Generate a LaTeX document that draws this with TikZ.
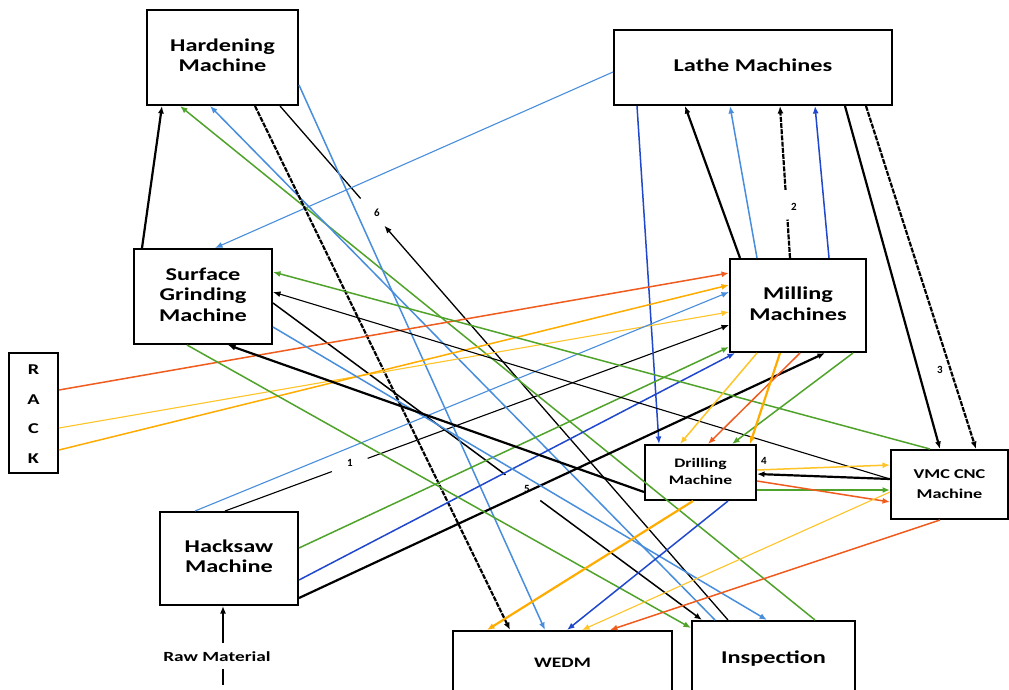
\documentclass[tikz,border=0pt]{standalone}
\usepackage{fontspec}
\usepackage{graphicx}
\setmainfont{Carlito}
\usetikzlibrary{arrows.meta,calc}

\definecolor{corange}{RGB}{240,92,30}
\definecolor{camber}{RGB}{255,172,0}
\definecolor{cyellow}{RGB}{255,196,40}
\definecolor{cgreen}{RGB}{80,163,42}
\definecolor{clight}{RGB}{72,142,220}
\definecolor{cblue}{RGB}{32,72,204}

% box caption: raise, font size, line skip, lines
\newcommand{\boxtext}[4]{\raisebox{#1pt}{\scalebox{1.35}[1]{\fontsize{#2}{#3}\selectfont\bfseries\begin{tabular}{@{}c@{}}#4\end{tabular}}}}

\tikzset{
  machine/.style={draw, line width=2pt, inner sep=0pt},
  num/.style={font=\fontsize{11}{12}\selectfont\bfseries, inner sep=1pt},
  ln/.style={line width=1.5pt, -{Latex[length=7.5pt,width=6pt]}},
  lnback/.style={line width=1.3pt, {Latex[length=7.5pt,width=6pt]}-},
  slim/.style={line width=1.1pt},
  heavy/.style={line width=2.2pt},
  dashline/.style={dash pattern=on 5pt off 1.2pt},
}

\begin{document}
\begin{tikzpicture}[x=1pt, y=-1pt]
\useasboundingbox (0,0) rectangle (1009,690);
\fill[white] (0,0) rectangle (1009,690);
\clip (0,0) rectangle (1009,690);

% machines
\node[machine, minimum width=151pt, minimum height=95pt] (hard) at (222.5,57.5) {\boxtext{3.5}{18}{20.5}{Hardening\\Machine}};
\node[machine, minimum width=278pt, minimum height=75pt] (lathe) at (753,67.5) {\boxtext{-3.5}{18}{20.5}{Lathe Machines}};
\node[machine, minimum width=138pt, minimum height=95pt] (sg) at (203,296.5) {\boxtext{5}{18}{20.5}{Surface\\Grinding\\Machine}};
\node[machine, minimum width=136pt, minimum height=93pt] (mill) at (798,305.5) {\boxtext{5}{18}{21}{Milling\\Machines}};
\node[machine, minimum width=49pt, minimum height=120pt] (rack) at (33.5,413) {\boxtext{0}{15}{29.5}{R\\A\\C\\K}};
\node[machine, minimum width=111pt, minimum height=55pt] (drill) at (700.5,472.5) {\boxtext{2.5}{13}{17}{Drilling\\Machine}};
\node[machine, minimum width=117pt, minimum height=69pt] (vmc) at (949.5,484.5) {\boxtext{7}{13.5}{20}{VMC CNC\\Machine}};
\node[machine, minimum width=138pt, minimum height=93pt] (hack) at (229,558.5) {\boxtext{4.5}{18}{20.5}{Hacksaw\\Machine}};
\node[machine, minimum width=219pt, minimum height=69pt] (wedm) at (562.5,665.5) {\boxtext{7.5}{14.5}{17}{WEDM}};
\node[machine, minimum width=163pt, minimum height=79pt] (insp) at (773.5,660.5) {\boxtext{8.5}{18}{20.5}{Inspection}};

\node[inner sep=1pt] (raw) at (217,657) {\scalebox{1.38}[1]{\fontsize{14}{16}\selectfont\bfseries Raw Material}};
\coordinate (rawtop) at (223,643);
\coordinate (rawtail) at (223,685);
\draw[line width=1.5pt] (223,669) -- (rawtail);

% numbered links (drawn with a gap around their number)
\coordinate (a1s) at (hard.south -| 280,0);
\coordinate (a1e) at (insp.north -| 728,0);
\draw[lnback] (a1s) -- ($(a1s)!0.180!(a1e)$) ($(a1s)!0.233!(a1e)$) -- (a1e);
\coordinate (a2s) at (mill.north -| 790,0);
\coordinate (a2e) at (lathe.south -| 780,0);
\draw[ln, heavy, dashline] (a2s) -- ($(a2s)!0.253!(a2e)$) ($(a2s)!0.448!(a2e)$) -- (a2e);
\coordinate (a3s) at (hack.north -| 225,0);
\coordinate (a3e) at (mill.west |- 0,325);
\draw[ln, slim] (a3s) -- ($(a3s)!0.212!(a3e)$) ($(a3s)!0.283!(a3e)$) -- (a3e);
\coordinate (a4s) at (sg.east |- 0,303);
\coordinate (a4e) at (insp.north -| 702,0);
\draw[ln] (a4s) -- ($(a4s)!0.542!(a4e)$) ($(a4s)!0.623!(a4e)$) -- (a4e);

\node[num] (n6) at (377,213) {6};
\node[num] (n2) at (794,207) {2};
\node[num] (n3) at (940,370) {3};
\node[num] (n1) at (350,463) {1};
\node[num] (n4) at (764,461) {4};
\node[num] (n5) at (527,489) {5};

% lathe links
\draw[ln, cblue] (lathe.south -| 637,0) -- (drill.north -| 659,0);
\draw[ln, heavy] (mill.north -| 740,0) -- (lathe.south -| 685,0);
\draw[ln, clight] (mill.north -| 757,0) -- (lathe.south -| 730,0);
\draw[ln, cblue] (mill.north -| 829,0) -- (lathe.south -| 815,0);
\draw[ln, heavy] (lathe.south -| 845,0) -- (vmc.north -| 940,0);
\draw[ln, heavy, dashline] (lathe.south -| 866,0) -- (vmc.north -| 976,0);
\draw[ln, clight, slim] (lathe.west |- 0,72) -- (sg.north -| 215,0);

% hardening links
\draw[ln, heavy] (sg.north -| 142,0) -- (hard.south -| 162,0);
\draw[ln, cgreen] (insp.north -| 815,0) -- (hard.south -| 180,0);
\draw[ln, clight] (insp.north -| 715,0) -- (hard.south -| 210,0);
\draw[ln, heavy, dashline] (hard.south -| 255,0) -- (wedm.north -| 510,0);
\draw[ln, clight] (hard.east |- 0,85) -- (wedm.north -| 545,0);

% rack links
\draw[ln, corange] (rack.east |- 0,390) -- (mill.west |- 0,273);
\draw[ln, cyellow, slim] (rack.east |- 0,428) -- (mill.west |- 0,312);
\draw[ln, camber] (rack.east |- 0,450) -- (mill.west |- 0,285);

% hacksaw links
\draw[ln, clight, slim] (hack.north -| 195,0) -- (mill.west |- 0,292);
\draw[ln, cgreen] (hack.east |- 0,548) -- (mill.west |- 0,347);
\draw[ln, cblue] (hack.east |- 0,580) -- (mill.south -| 735,0);
\draw[ln, heavy] (hack.east |- 0,598) -- (mill.south -| 825,0);
\draw[ln, heavy] (rawtop) -- (hack.south -| 223,0);

% surface grinding links
\draw[ln, cgreen] (vmc.north -| 930,0) -- (sg.east |- 0,272);
\draw[ln, slim] (vmc.west |- 0,479) -- (sg.east |- 0,292);
\draw[ln, clight] (sg.east |- 0,327) -- (insp.north -| 767,0);
\draw[ln, cgreen] (sg.south -| 187,0) -- (insp.west |- 0,628);
\draw[ln, heavy] (drill.west |- 0,492) -- (sg.south -| 228,0);

% milling to drilling
\draw[ln, cyellow] (mill.south -| 757,0) -- (drill.north -| 680,0);
\draw[ln, corange] (mill.south -| 800,0) -- (drill.north -| 708,0);
\draw[ln, cgreen] (mill.south -| 853,0) -- (drill.north -| 732,0);
\draw[ln, camber, heavy] (mill.south -| 780,0) -- (drill.north -| 750,0);

% drilling and VMC
\draw[ln, cyellow] (drill.east |- 0,470) -- (vmc.west |- 0,465);
\draw[ln, heavy] (vmc.west |- 0,479) -- (drill.east |- 0,474);
\draw[ln, cgreen] (drill.east |- 0,490) -- (vmc.west |- 0,490);
\draw[ln, corange] (drill.east |- 0,481) -- (vmc.west |- 0,502);

% into WEDM
\draw[ln, camber, heavy] (drill.south -| 693,0) -- (wedm.north -| 487,0);
\draw[ln, cblue] (drill.south -| 728,0) -- (wedm.north -| 567,0);
\draw[ln, cyellow, slim] (vmc.west |- 0,492) -- (wedm.north -| 582,0);
\draw[ln, corange] (vmc.south -| 940,0) -- (wedm.north -| 610,0);
\end{tikzpicture}
\end{document}
